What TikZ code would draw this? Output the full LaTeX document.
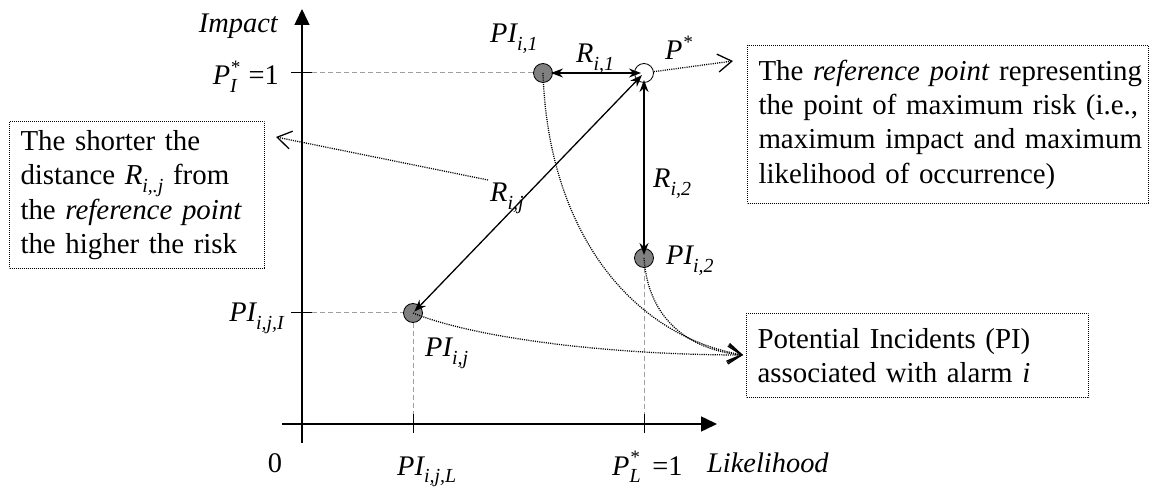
\documentclass[tikz,border=0pt]{standalone}
\usepackage{fontspec}
\setmainfont{Liberation Serif}
\usetikzlibrary{arrows.meta}
\newcommand\lsub[1]{\raisebox{-0.26em}{\fontsize{20}{20}\selectfont\itshape #1}}
\newcommand\lsup[1]{\raisebox{0.42em}{\fontsize{19}{19}\selectfont #1}}
\newcommand\noteline[1]{\mbox{#1}}
\definecolor{ptgray}{HTML}{808080}
\definecolor{dashgray}{HTML}{A0A0A0}
\begin{document}
\begin{tikzpicture}[x=1bp,y=-1bp,
  lab/.style={inner sep=0pt, font=\fontsize{28.5}{28.5}\selectfont\itshape},
  pt/.style={circle, draw, line width=0.8bp, fill=ptgray, minimum size=19bp, inner sep=0pt},
  refpt/.style={pt, fill=white},
  axis/.style={line width=1.5bp, -{Triangle[length=16bp,width=15bp]}},
  tick/.style={line width=1bp},
  guide/.style={dashgray, line width=1bp, dash pattern=on 5bp off 3bp},
  dist/.style={line width=1.3bp, {Stealth[length=12bp,width=9bp]}-{Stealth[length=12bp,width=9bp]}},
  dot/.style={line width=1.25bp, dash pattern=on 1.1bp off 1.1bp},
  dotarrow/.style={dot, -{Straight Barb[length=14bp,width=18bp,line width=1.3bp]}},
  note/.style={draw, line width=1bp, dash pattern=on 1bp off 1bp, anchor=north west,
    align=left, inner xsep=11bp, inner ysep=0pt,
    font=\fontsize{29}{34.5}\selectfont}
]
\useasboundingbox (0,0) rectangle (1150,488);

% axes
\coordinate (ybot) at (302,443);
\coordinate (ytop) at (302,9);
\coordinate (xleft) at (282,424);
\coordinate (xright) at (717,424);
\draw[axis] (ybot) -- (ytop);
\draw[axis] (xleft) -- (xright);

% ticks
\coordinate (tyA1) at (291,73);  \coordinate (tyA2) at (312,73);
\coordinate (tyB1) at (291,313); \coordinate (tyB2) at (312,313);
\coordinate (txA1) at (413,414); \coordinate (txA2) at (413,433);
\coordinate (txB1) at (644,414); \coordinate (txB2) at (644,433);
\draw[tick] (tyA1) -- (tyA2);
\draw[tick] (tyB1) -- (tyB2);
\draw[tick] (txA1) -- (txA2);
\draw[tick] (txB1) -- (txB2);

% points
\node[pt] (pi1) at (543,73) {};
\node[refpt] (ps) at (644,73) {};
\node[pt] (pi2) at (644,258) {};
\node[pt] (pij) at (413,313) {};

% guide lines
\draw[guide] (tyA2) -- (pi1);
\draw[guide] (tyB2) -- (pij);
\draw[guide] (pij) -- (txA1);
\draw[guide] (pi2) -- (txB1);

% axis labels
\node[lab,anchor=base east] (limp) at (278,33) {Impact};
\node[lab,anchor=base east] (lpi) at (279,85) {P\rlap{\lsup{*}}\lsub{I}\upshape\ \,=1};
\node[lab,anchor=base east] (lpij) at (284,322) {PI\lsub{i,j,I}};
\node[lab,anchor=base] (lzero) at (275,472) {\upshape 0};
\node[lab,anchor=base west] (lpl) at (397,475) {PI\lsub{i,j,L}};
\node[lab,anchor=base west] (lplx) at (612,475) {P\rlap{\lsup{*}}\lsub{L}\upshape\ \,=1};
\node[lab,anchor=base west] (llik) at (707,472) {Likelihood};

% point labels
\node[lab,anchor=base west] (lpi1) at (490,43) {PI\lsub{i,1}};
\node[lab,anchor=base west] (lri1) at (576,63) {R\lsub{i,1}};
\node[lab,anchor=base west] (lps) at (665,60) {P\lsup{*}};
\node[lab,anchor=base west] (lri2) at (653,188) {R\lsub{i,2}};
\node[lab,anchor=base west] (lrij) at (490,202) {R\lsub{i,j}};
\node[lab,anchor=base west] (lpi2) at (666,265) {PI\lsub{i,2}};
\node[lab,anchor=base west] (lpij2) at (425,357) {PI\lsub{i,j}};

% notes
\node[note, text width=233bp, minimum height=147bp] (b1) at (9,121)
  {\noteline{The shorter the}\\\noteline{distance \textit{R}\lsub{i,.j} from}\\\noteline{the \textit{reference point}}\\\noteline{the higher the risk}};
\node[note, text width=379bp, minimum height=158bp] (b2) at (747,45)
  {\noteline{The \textit{reference point} representing}\\\noteline{the point of maximum risk (i.e.,}\\\noteline{maximum impact and maximum}\\\noteline{likelihood of occurrence)}};
\node[note, text width=320bp, minimum height=84bp] (b3) at (746,313)
  {\noteline{Potential Incidents (PI)}\\\noteline{associated with alarm \textit{i}}};

% note arrows
\coordinate (t1) at (276,137);
\coordinate (t2) at (733,61);
\coordinate (t3) at (743,355);
\coordinate (rijs) at (488,180);
\draw[dotarrow] (rijs) -- (t1);
\draw[dotarrow] (ps) -- (t2);
\draw[dotarrow] (pi1.center) .. controls (548,230) and (630,335) .. (t3);
\draw[dotarrow] (pi2.center) .. controls (648,320) and (690,350) .. (t3);
\draw[dotarrow] (pij.center) .. controls (480,340) and (620,355) .. (t3);

% distances
\draw[dist, shorten <=8bp, shorten >=3bp] (pi1.center) -- (ps.center);
\draw[dist, shorten <=7bp, shorten >=3bp] (ps.center) -- (pi2.center);
\draw[dist, shorten <=3bp, shorten >=2bp] (ps.center) -- (pij.center);
\end{tikzpicture}
\end{document}
